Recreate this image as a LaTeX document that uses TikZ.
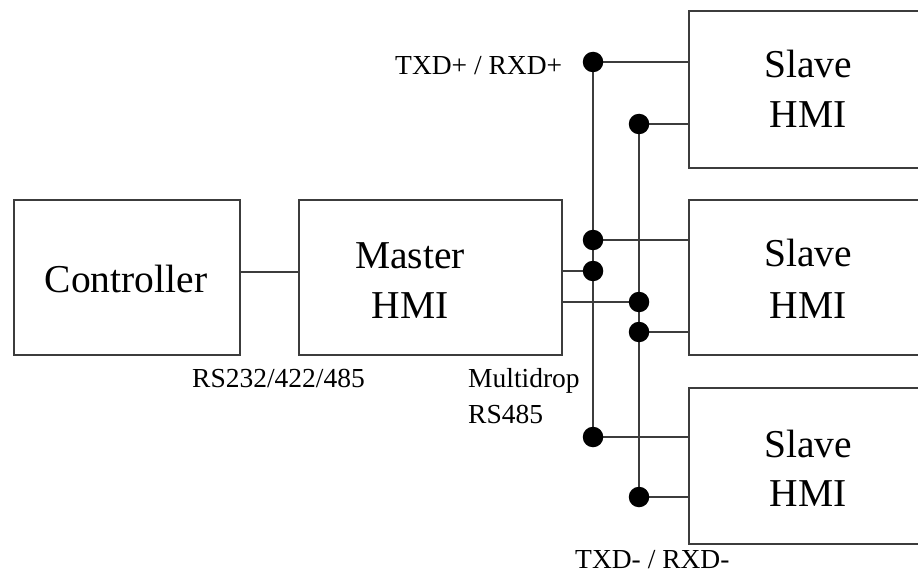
\documentclass[tikz,border=0pt]{standalone}
\usepackage{fontspec}
\setmainfont{Liberation Serif}
\definecolor{linecol}{RGB}{60,60,60}
\begin{document}
\begin{tikzpicture}[x=1pt,y=-1pt,
  box/.style={draw=linecol,line width=1.6pt,rectangle,inner sep=0pt,anchor=north west},
  bigtxt/.style={font=\fontsize{39.5}{49.5}\selectfont,align=center,anchor=base,inner sep=0pt},
  smalltxt/.style={font=\fontsize{27.5}{36}\selectfont,align=left,anchor=base west,inner sep=0pt},
  wire/.style={draw=linecol,line width=1.6pt},
  dotc/.style={fill=black,circle,minimum size=20.5pt,inner sep=0pt}]
\useasboundingbox (0,0) rectangle (918,575);
\clip (0,0) rectangle (918,575);
% boxes
\node[box,minimum width=226pt,minimum height=155pt] (ctrl) at (13,199) {};
\node[box,minimum width=263pt,minimum height=155pt] (master) at (298,199) {};
\node[box,minimum width=260pt,minimum height=157pt] (s1) at (688,10) {};
\node[box,minimum width=260pt,minimum height=155pt] (s2) at (688,199) {};
\node[box,minimum width=260pt,minimum height=156pt] (s3) at (688,387) {};
% box texts
\node[bigtxt] (tctrl) at (126,292) {Controller};
\node[bigtxt] (tm1) at (410,268) {Master};
\node[bigtxt] (tm2) at (410,318) {HMI};
\node[bigtxt] (ts1a) at (808,78) {Slave};
\node[bigtxt] (ts1b) at (808,128) {HMI};
\node[bigtxt] (ts2a) at (808,266) {Slave};
\node[bigtxt] (ts2b) at (808,318) {HMI};
\node[bigtxt] (ts3a) at (808,457) {Slave};
\node[bigtxt] (ts3b) at (808,506) {HMI};
% labels
\node[smalltxt] (lp) at (395,75) {TXD+ / RXD+};
\node[smalltxt] (lrs) at (192,387) {RS232/422/485};
\node[smalltxt] (lm1) at (468,387) {Multidrop};
\node[smalltxt] (lm2) at (468,423) {RS485};
\node[smalltxt] (ln) at (575,568) {TXD- / RXD-};
% dot coordinates
\coordinate (a1) at (593,62);
\coordinate (a2) at (593,240);
\coordinate (a3) at (593,271);
\coordinate (a4) at (593,437);
\coordinate (b1) at (639,124);
\coordinate (b2) at (639,302);
\coordinate (b3) at (639,332);
\coordinate (b4) at (639,497);
% wires
\draw[wire] (ctrl.east |- 0,272) -- (master.west |- 0,272);
\draw[wire] (a1) -- (a4);
\draw[wire] (b1) -- (b4);
\draw[wire] (a1) -- (a1 -| s1.west);
\draw[wire] (b1) -- (b1 -| s1.west);
\draw[wire] (a2) -- (a2 -| s2.west);
\draw[wire] (b3) -- (b3 -| s2.west);
\draw[wire] (a4) -- (a4 -| s3.west);
\draw[wire] (b4) -- (b4 -| s3.west);
\draw[wire] (master.east |- a3) -- (a3);
\draw[wire] (master.east |- b2) -- (b2);
% dots
\foreach \p in {a1,a2,a3,a4,b1,b2,b3,b4}
  \node[dotc] (dot\p) at (\p) {};
\end{tikzpicture}
\end{document}
